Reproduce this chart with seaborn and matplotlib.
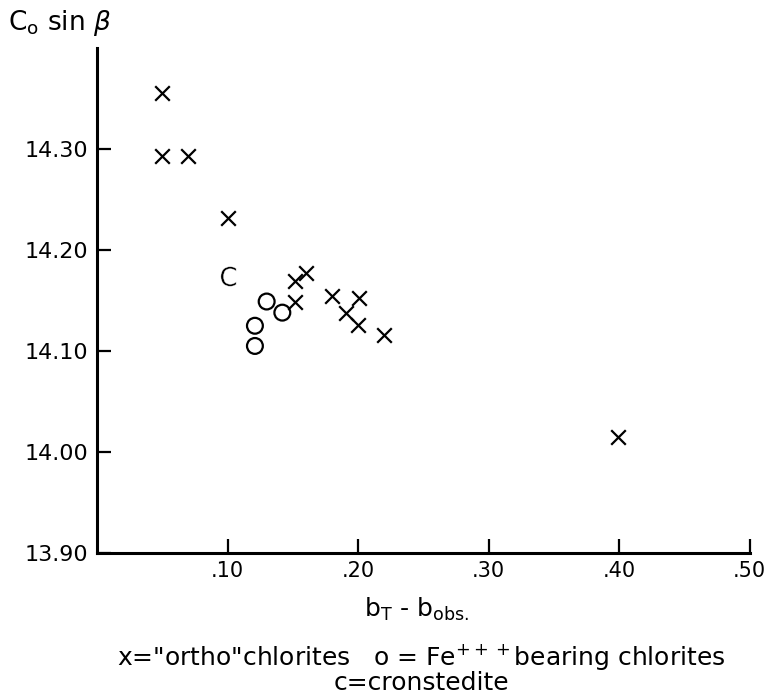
import matplotlib
matplotlib.use("Agg")
import matplotlib.pyplot as plt
import seaborn as sns

# "ortho" chlorites (x markers)
ortho_x = [0.05, 0.05, 0.07, 0.10, 0.152, 0.160, 0.152, 0.180, 0.201, 0.191, 0.200, 0.220, 0.399]
ortho_y = [14.355, 14.293, 14.293, 14.232, 14.169, 14.177, 14.149, 14.154, 14.152, 14.138, 14.126, 14.116, 14.015]

# Fe+++ bearing chlorites (open circles)
fe_x = [0.130, 0.142, 0.121, 0.121]
fe_y = [14.149, 14.138, 14.125, 14.105]

# cronstedite
cron_x = [0.10]
cron_y = [14.174]

x_ticks = [0.10, 0.20, 0.30, 0.40, 0.50]
x_labels = [".10", ".20", ".30", ".40", ".50"]
y_ticks = [13.90, 14.00, 14.10, 14.20, 14.30]
y_labels = ["13.90", "14.00", "14.10", "14.20", "14.30"]

sns.set_style("ticks")
plt.rcParams["font.family"] = ["DejaVu Sans"]
plt.rcParams["mathtext.fontset"] = "dejavusans"
plt.rcParams["text.color"] = "black"

fig = plt.figure(figsize=(7.65, 6.97), dpi=100)
ax = fig.add_axes([0.1268, 0.2066, 0.853, 0.7245])

sns.scatterplot(x=ortho_x, y=ortho_y, marker="x", color="black", s=110, linewidth=1.6, ax=ax)
sns.scatterplot(x=fe_x, y=fe_y, marker="o", facecolor="none", edgecolor="black", s=130, linewidth=1.6, ax=ax)
sns.scatterplot(x=cron_x, y=cron_y, marker=r"$\mathregular{C}$", color="black", s=200, linewidth=0.3, ax=ax)

ax.set_xlim(0, 0.5)
ax.set_ylim(13.90, 14.40)
ax.set_xticks(x_ticks)
ax.set_xticklabels(x_labels)
ax.set_yticks(y_ticks)
ax.set_yticklabels(y_labels)
ax.tick_params(direction="in", length=10, width=1.6, labelsize=16, colors="black")
ax.tick_params(axis="x", pad=6, labelsize=15)
ax.tick_params(axis="y", pad=6)
sns.despine(ax=ax)
for side in ["left", "bottom"]:
    ax.spines[side].set_linewidth(2.2)
    ax.spines[side].set_color("black")

fig.text(0.010, 0.957, r"$\mathregular{C_o}$ sin $\beta$", fontsize=19, va="baseline", ha="left", color="black")
fig.text(0.545, 0.115, r"$\mathregular{b_T}$ - $\mathregular{b_{obs.}}$", fontsize=18, ha="center", va="baseline", color="black")
fig.text(0.551, 0.046, r'x="ortho"chlorites   o = Fe$^{+++}$bearing chlorites', fontsize=18, ha="center", va="baseline", color="black")
fig.text(0.551, 0.010, "c=cronstedite", fontsize=18, ha="center", va="baseline", color="black")

fig.savefig("out.png", dpi=100, facecolor="white")
